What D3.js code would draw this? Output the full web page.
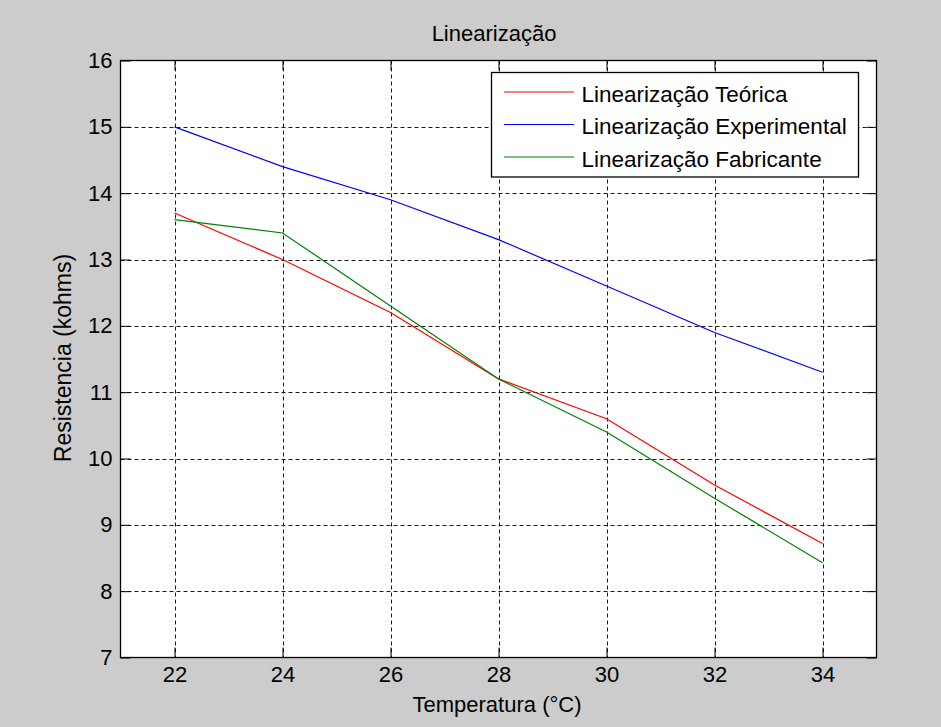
<!DOCTYPE html>
<html>
<head>
<meta charset="utf-8">
<script src="https://cdn.jsdelivr.net/npm/d3@7"></script>
<style>
  html, body { margin: 0; padding: 0; background: #cccccc; }
  svg { display: block; }
  text { font-family: Arial, "Liberation Sans", sans-serif; fill: #000; }
</style>
</head>
<body>
<svg id="chart" width="941" height="727"></svg>
<script>
// ---- Data ----
const temperatures = [22, 24, 26, 28, 30, 32, 34];
const teorica      = [13.7, 13.0, 12.2, 11.2, 10.6, 9.6, 8.72];
const experimental = [15.0, 14.4, 13.9, 13.3, 12.6, 11.9, 11.3];
const fabricante   = [13.6, 13.4, 12.3, 11.2, 10.4, 9.4, 8.43];
const seriesNames  = ["Linearização Teórica", "Linearização Experimental", "Linearização Fabricante"];
const xTicks = [22, 24, 26, 28, 30, 32, 34];
const yTicks = [7, 8, 9, 10, 11, 12, 13, 14, 15, 16];
const titleText = "Linearização";
const xLabel = "Temperatura (°C)";
const yLabel = "Resistencia (kohms)";

const seriesColors = ["#ff0000", "#0000ff", "#008000"];
const seriesValues = [teorica, experimental, fabricante];

// ---- Layout ----
const W = 941, H = 727;
const plot = { left: 120.5, right: 876.5, top: 60.5, bottom: 657.5 };
const FS = 22;

const svg = d3.select("#chart");
svg.append("rect").attr("width", W).attr("height", H).attr("fill", "#cccccc");

const x = d3.scaleLinear().domain([21, 35]).range([plot.left, plot.right]);
const y = d3.scaleLinear().domain([7, 16]).range([plot.bottom, plot.top]);

// plot background
svg.append("rect")
  .attr("x", plot.left).attr("y", plot.top)
  .attr("width", plot.right - plot.left).attr("height", plot.bottom - plot.top)
  .attr("fill", "#ffffff");

// grid
const grid = svg.append("g").attr("stroke", "#1a1a1a").attr("stroke-width", 1)
  .attr("stroke-dasharray", "4,3").attr("fill", "none");
xTicks.forEach(t => {
  const px = Math.round(x(t)) + 0.5;
  grid.append("line").attr("x1", px).attr("x2", px).attr("y1", plot.top).attr("y2", plot.bottom);
});
yTicks.forEach(t => {
  if (t === 7 || t === 16) return;
  const py = Math.round(y(t)) + 0.5;
  grid.append("line").attr("x1", plot.left).attr("x2", plot.right).attr("y1", py).attr("y2", py);
});

// axes
const tickLen = 10;
const xAxisB = d3.axisBottom(x).tickValues(xTicks).tickSize(-tickLen).tickPadding(9).tickFormat(d3.format("d"));
const xAxisT = d3.axisTop(x).tickValues(xTicks).tickSize(-tickLen).tickFormat("");
const yAxisL = d3.axisLeft(y).tickValues(yTicks).tickSize(-tickLen).tickPadding(8).tickFormat(d3.format("d"));
const yAxisR = d3.axisRight(y).tickValues(yTicks).tickSize(-tickLen).tickFormat("");

function styleAxis(g) {
  g.select(".domain").remove();
  g.selectAll(".tick line").attr("stroke", "#000").attr("stroke-width", 1);
  g.selectAll(".tick text").attr("font-size", FS).attr("font-family", "Arial, 'Liberation Sans', sans-serif").attr("fill", "#000");
}
svg.append("g").attr("transform", `translate(0,${plot.bottom})`).call(xAxisB).call(styleAxis);
svg.append("g").attr("transform", `translate(0,${plot.top})`).call(xAxisT).call(styleAxis);
svg.append("g").attr("transform", `translate(${plot.left},0)`).call(yAxisL).call(styleAxis);
svg.append("g").attr("transform", `translate(${plot.right},0)`).call(yAxisR).call(styleAxis);

// lines
const line = d3.line().x((d, i) => x(temperatures[i])).y(d => y(d));
seriesValues.forEach((vals, k) => {
  svg.append("path").datum(vals).attr("d", line)
    .attr("fill", "none").attr("stroke", seriesColors[k]).attr("stroke-width", 1.2);
});

// frame
svg.append("rect")
  .attr("x", plot.left).attr("y", plot.top)
  .attr("width", plot.right - plot.left).attr("height", plot.bottom - plot.top)
  .attr("fill", "none").attr("stroke", "#000").attr("stroke-width", 1.3);

// title & labels
svg.append("text").attr("x", 494).attr("y", 41).attr("text-anchor", "middle")
  .attr("font-size", FS).text(titleText);
svg.append("text").attr("x", 497).attr("y", 712).attr("text-anchor", "middle")
  .attr("font-size", FS).text(xLabel);
svg.append("text").attr("transform", "translate(71,358) rotate(-90)").attr("text-anchor", "middle")
  .attr("font-size", 23).text(yLabel);

// legend
const lg = svg.append("g");
lg.append("rect").attr("x", 491.5).attr("y", 72.5).attr("width", 367).attr("height", 104.5)
  .attr("fill", "#fff").attr("stroke", "#000").attr("stroke-width", 1.3);
const rowY = [92, 124.5, 157];
seriesNames.forEach((name, k) => {
  lg.append("line").attr("x1", 504).attr("x2", 574).attr("y1", rowY[k]).attr("y2", rowY[k])
    .attr("stroke", seriesColors[k]).attr("stroke-width", 1.2);
  lg.append("text").attr("x", 581.5).attr("y", rowY[k] + 9.5).attr("font-size", 22.5).text(name);
});
</script>
</body>
</html>
